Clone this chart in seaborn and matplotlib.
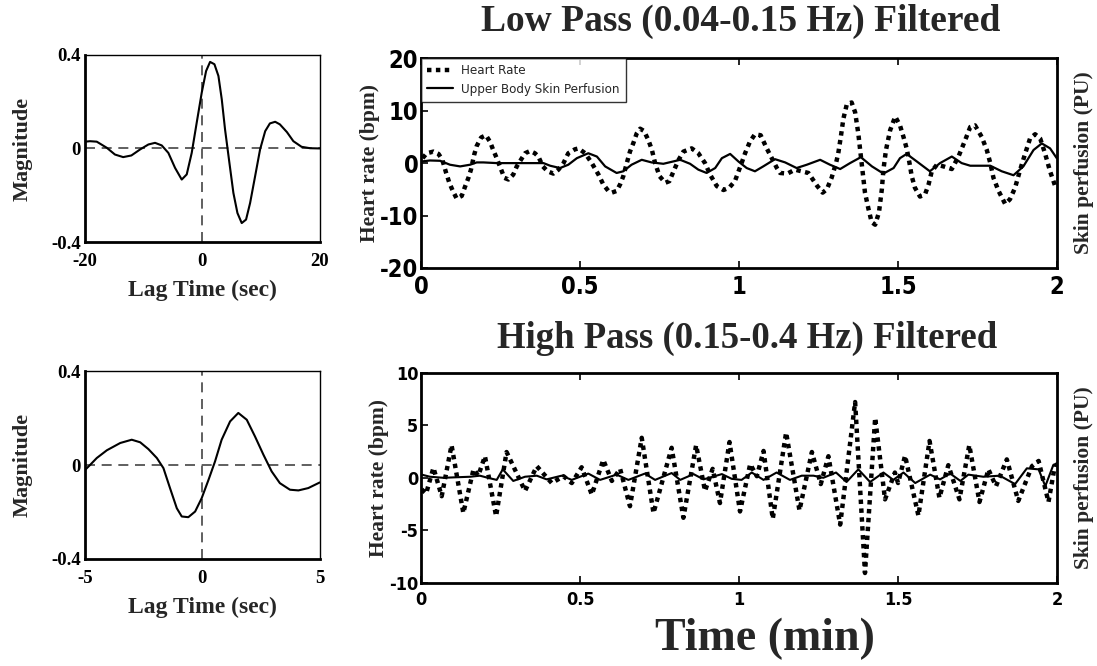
import matplotlib
matplotlib.use("Agg")
import matplotlib.pyplot as plt
import seaborn as sns
import pandas as pd

# ---------------- data ----------------
# Cross-correlation, low pass
ccf_lp_lag = [-20.0, -19.15, -18.0, -16.3, -14.9, -13.5, -12.1, -10.6, -9.2, -8.07, -6.93, -5.8, -4.66, -3.52, -2.67, -1.82, -0.97, -0.11, 0.63, 1.31, 2.05, 2.73, 3.3, 3.86, 4.6, 5.28, 5.97, 6.7, 7.44, 8.13, 8.98, 9.83, 10.7, 11.5, 12.4, 13.2, 14.4, 15.5, 16.9, 18.35, 20.0]
ccf_lp_mag = [0.029, 0.031, 0.029, 0.003, -0.026, -0.037, -0.03, -0.004, 0.017, 0.024, 0.013, -0.019, -0.083, -0.133, -0.111, -0.019, 0.11, 0.239, 0.331, 0.37, 0.36, 0.31, 0.21, 0.081, -0.061, -0.19, -0.276, -0.319, -0.304, -0.233, -0.119, -0.004, 0.074, 0.107, 0.114, 0.103, 0.07, 0.031, 0.007, 0.001, 0.0]
# Cross-correlation, high pass
ccf_hp_lag = [-4.99, -4.78, -4.5, -4.07, -3.5, -3.01, -2.65, -2.3, -1.94, -1.66, -1.38, -1.09, -0.88, -0.6, -0.31, -0.03, 0.26, 0.54, 0.82, 1.18, 1.53, 1.89, 2.24, 2.6, 2.95, 3.3, 3.73, 4.09, 4.51, 5.0]
ccf_hp_mag = [-0.02, 0.001, 0.03, 0.063, 0.094, 0.108, 0.097, 0.068, 0.03, -0.013, -0.098, -0.184, -0.219, -0.222, -0.198, -0.141, -0.063, 0.016, 0.108, 0.186, 0.222, 0.193, 0.122, 0.044, -0.027, -0.077, -0.105, -0.108, -0.098, -0.074]

# Low pass filtered heart rate
lp_hr_t = [0.005, 0.018, 0.039, 0.055, 0.067, 0.079, 0.089, 0.1, 0.112, 0.128, 0.138, 0.149, 0.157, 0.167, 0.175, 0.189, 0.204, 0.217, 0.227, 0.238, 0.248, 0.262, 0.275, 0.29, 0.301, 0.314, 0.327, 0.343, 0.358, 0.369, 0.383, 0.398, 0.416, 0.432, 0.448, 0.463, 0.484,
           0.495, 0.516, 0.537, 0.558, 0.573, 0.589, 0.6, 0.615, 0.626, 0.636, 0.647, 0.657, 0.668, 0.678, 0.689, 0.701, 0.715, 0.726, 0.736, 0.75, 0.768, 0.781, 0.794, 0.81, 0.825, 0.851, 0.872, 0.893, 0.909, 0.93, 0.951, 0.969, 0.987,
           1.008, 1.019, 1.034, 1.05, 1.068, 1.087, 1.103, 1.119, 1.129, 1.152, 1.176, 1.197, 1.218, 1.246, 1.263, 1.276, 1.291, 1.305, 1.312, 1.32, 1.328, 1.339, 1.354, 1.365, 1.375, 1.383, 1.389, 1.396, 1.407, 1.417, 1.428, 1.44, 1.449, 1.454, 1.462, 1.475, 1.491,
           1.506, 1.517, 1.527, 1.536, 1.543, 1.553, 1.569, 1.585, 1.596, 1.606, 1.622, 1.643, 1.669, 1.69, 1.711, 1.727, 1.742, 1.763, 1.779, 1.79, 1.8, 1.816, 1.837, 1.852, 1.868, 1.884, 1.9, 1.915, 1.931, 1.947, 1.962, 1.978, 1.994]
lp_hr_v = [0.94, 1.88, 2.19, 1.75, 0.63, -1.88, -3.75, -5.31, -6.75, -6.25, -4.56, -2.81, -1.25, 1.56, 3.25, 4.88, 5.31, 4.06, 2.5, 0.94, -0.63, -2.81, -3.13, -2.19, -0.63, 0.63, 1.88, 2.31, 1.88, 1.25, -0.63, -1.56, -2.0, -1.25, 0.0, 1.88, 2.63,
           2.8, 1.88, 0.0, -2.19, -4.06, -5.31, -5.63, -5.31, -4.06, -2.5, 0.0, 2.19, 3.88, 5.63, 6.56, 6.13, 4.38, 2.5, 0.0, -2.5, -3.75, -3.44, -1.56, 0.63, 2.19, 2.81, 1.88, 0.0, -2.19, -4.38, -5.13, -4.69, -3.44,
           0.0, 1.88, 4.06, 5.5, 5.31, 2.81, 0.94, -0.94, -1.88, -2.0, -1.25, -1.56, -1.88, -4.38, -5.63, -5.0, -2.81, 0.0, 1.88, 5.0, 8.44, 11.25, 11.56, 9.69, 5.63, 1.25, -1.88, -5.63, -8.75, -11.25, -11.75, -9.38, -5.0, -1.25, 2.5, 6.25, 8.88,
           7.19, 5.0, 2.81, 0.0, -2.5, -4.69, -6.38, -5.94, -4.06, -1.56, -0.31, -0.63, -1.13, 1.25, 4.38, 6.88, 7.19, 5.0, 2.5, 0.0, -2.81, -5.31, -7.81, -6.88, -4.69, -1.25, 1.88, 4.69, 5.5, 4.69, 1.88, -1.56, -4.38]
# Low pass filtered skin perfusion
lp_sp_t = [0.002, 0.028, 0.06, 0.091, 0.123, 0.154, 0.175, 0.196, 0.238, 0.332, 0.385, 0.406, 0.437, 0.463, 0.49,
           0.526, 0.553, 0.579, 0.615, 0.636, 0.662, 0.694, 0.725, 0.762, 0.815, 0.846, 0.872, 0.898, 0.925, 0.946, 0.972,
           0.998, 1.024, 1.05, 1.076, 1.113, 1.145, 1.181, 1.213, 1.255, 1.286, 1.318, 1.349, 1.383, 1.418, 1.454, 1.486,
           1.506, 1.527, 1.559, 1.6, 1.632, 1.669, 1.7, 1.727, 1.79, 1.826, 1.863, 1.894, 1.926, 1.952, 1.978, 1.999]
lp_sp_v = [0.31, 0.5, 0.44, -0.31, -0.63, -0.31, 0.13, 0.13, 0.0, 0.0, 0.0, -0.5, -0.94, -0.31, 0.94,
           1.88, 1.25, -0.63, -1.88, -1.56, -0.31, 0.63, 0.13, -0.13, 0.63, -0.13, -1.25, -1.88, -0.94, 0.94, 1.75,
           0.31, -0.94, -1.56, -0.63, 0.75, 0.13, -0.94, -0.31, 0.63, -0.31, -1.13, 0.0, 1.13, -0.63, -2.0, -0.94,
           0.94, 1.75, 0.31, -1.56, 0.0, 1.25, 0.0, -0.5, -0.5, -1.56, -2.31, -0.63, 2.5, 3.75, 2.81, 0.94]

# High pass filtered heart rate
hp_hr_t = [0.002, 0.016, 0.039, 0.065, 0.096, 0.133, 0.165, 0.18, 0.201, 0.236, 0.269, 0.327, 0.364, 0.411, 0.448, 0.474, 0.505, 0.537, 0.573, 0.6, 0.626, 0.657, 0.694, 0.731, 0.788, 0.825, 0.865, 0.893, 0.917, 0.94, 0.97, 1.003, 1.035, 1.056, 1.077, 1.106, 1.148, 1.19, 1.229, 1.257, 1.281, 1.318, 1.365, 1.396, 1.428, 1.459, 1.49, 1.50, 1.522, 1.564, 1.599, 1.63, 1.658, 1.693, 1.724, 1.756, 1.784, 1.808, 1.842, 1.878, 1.921, 1.942, 1.973, 1.994]
hp_hr_v = [-1.1, -1.5, 0.95, -1.75, 3.1, -3.35, 0.8, 0.2, 2.05, -3.65, 2.45, -1.25, 1.1, -0.5, 0.15, -0.5, 1.0, -1.6, 1.7, -0.3, 0.85, -2.7, 3.8, -3.35, 2.85, -3.8, 3.1, -1.25, 0.85, -2.4, 3.4, -3.2, 1.3, 0.15, 2.55, -3.9, 4.3, -3.1, 2.45, -0.6, 2.05, -4.45, 7.2, -9.05, 5.7, -2.05, 0.5, -0.5, 2.1, -3.6, 3.5, -1.9, 1.2, -2.05, 3.1, -2.3, 0.8, -0.8, 1.75, -2.2, 1.1, 1.6, -2.3, 1.3]
# High pass filtered skin perfusion
hp_sp_t = [0.002, 0.028, 0.07, 0.155, 0.185, 0.21, 0.238, 0.257, 0.29, 0.327, 0.364, 0.395, 0.442, 0.474, 0.5, 0.526, 0.563, 0.615, 0.652, 0.704, 0.736, 0.788, 0.815, 0.857, 0.888, 0.946, 0.977, 1.008, 1.04, 1.077, 1.118, 1.16, 1.197, 1.234, 1.265, 1.305, 1.338, 1.375, 1.412, 1.454, 1.485, 1.517, 1.554, 1.601, 1.632, 1.664, 1.696, 1.721, 1.768, 1.82, 1.868, 1.905, 1.942, 1.963, 1.988, 2.0]
hp_sp_v = [0.3, 0.1, 0.0, 0.1, 0.2, 0.0, -0.2, 0.8, -0.3, 0.1, 0.2, -0.15, 0.2, -0.2, 0.1, 0.4, -0.2, 0.3, -0.2, 0.4, -0.2, 0.45, -0.2, 0.35, -0.15, 0.35, -0.1, -0.2, 0.5, -0.2, 0.5, -0.2, 0.2, 0.2, 0.0, 0.5, -0.4, 0.8, -0.4, 0.5, -0.2, 0.5, -0.5, 0.3, -0.15, 0.4, -0.3, 0.3, 0.1, 0.2, -0.6, 0.9, 0.8, -0.8, 1.2, 1.4]

lp_title = "Low Pass (0.04-0.15 Hz) Filtered"
hp_title = "High Pass (0.15-0.4 Hz) Filtered"
legend_labels = ["Heart Rate", "Upper Body Skin Perfusion"]

# ---------------- style ----------------
sns.set_theme(style="white")
plt.rcParams["font.family"] = ["Liberation Serif", "DejaVu Serif"]
SERIF = ["Liberation Serif", "DejaVu Serif"]
NARROW = ["DejaVu Sans"]

fig = plt.figure(figsize=(10.97, 6.66), dpi=100)

def style_ccf(ax, xlim, xticks):
    ax.set_xlim(*xlim)
    ax.set_ylim(-0.4, 0.4)
    ax.axhline(0, color="#444444", lw=1.2, ls=(0, (6, 4)), zorder=1)
    ax.axvline(0, color="#444444", lw=1.2, ls=(0, (6, 4)), zorder=1)
    ax.set_xticks(xticks)
    ax.set_yticks([-0.4, 0, 0.4])
    ax.set_yticklabels(["-0.4", "0", "0.4"])
    ax.set_xticklabels([str(v) for v in xticks])
    for lab in ax.get_xticklabels() + ax.get_yticklabels():
        lab.set_fontfamily(SERIF)
        lab.set_fontweight("bold")
        lab.set_fontsize(13.5)
    ax.tick_params(direction="in", length=3, width=1, pad=8, colors="black")
    ax.tick_params(axis="y", pad=3)
    for side in ["left", "bottom"]:
        ax.spines[side].set_linewidth(2.0)
    for side in ["top", "right"]:
        ax.spines[side].set_linewidth(1.0)
    for s in ax.spines.values():
        s.set_color("black")
        s.set_visible(True)
    ax.set_ylabel("Magnitude", fontfamily=SERIF, fontweight="bold", fontsize=16, labelpad=13)
    ax.set_xlabel("Lag Time (sec)", fontfamily=SERIF, fontweight="bold", fontsize=17, labelpad=7)

# left top
ax1 = fig.add_axes([0.0775, 0.6366, 0.214, 0.281])
df1 = pd.DataFrame({"lag": ccf_lp_lag, "mag": ccf_lp_mag})
sns.lineplot(data=df1, x="lag", y="mag", ax=ax1, color="black", lw=1.5, zorder=3)
style_ccf(ax1, (-20, 20), [-20, 0, 20])

# left bottom
ax3 = fig.add_axes([0.0775, 0.1607, 0.214, 0.282])
df3 = pd.DataFrame({"lag": ccf_hp_lag, "mag": ccf_hp_mag})
sns.lineplot(data=df3, x="lag", y="mag", ax=ax3, color="black", lw=1.5, zorder=3)
style_ccf(ax3, (-5, 5), [-5, 0, 5])

def style_ts(ax, ylim, yticks, tick_fs, xpad):
    ax.set_xlim(0, 2)
    ax.set_ylim(*ylim)
    ax.set_xticks([0, 0.5, 1, 1.5, 2])
    ax.set_xticklabels(["0", "0.5", "1", "1.5", "2"])
    ax.set_yticks(yticks)
    ax.set_yticklabels([str(v) for v in yticks])
    for lab in ax.get_xticklabels() + ax.get_yticklabels():
        lab.set_fontfamily(NARROW)
        lab.set_fontstretch("condensed")
        lab.set_fontweight("bold")
        lab.set_fontsize(tick_fs)
    ax.tick_params(direction="in", length=5, width=1.2, colors="black",
                   top=True, right=True, bottom=True, left=True, pad=2)
    ax.tick_params(axis="x", pad=xpad)
    for s in ax.spines.values():
        s.set_linewidth(2.0)
        s.set_color("black")
        s.set_visible(True)
    ax.set_ylabel("Heart rate (bpm)", fontfamily=SERIF, fontweight="bold", fontsize=15.5, labelpad=0)
    ax.set_xlabel("")
    axr = ax.twinx()
    axr.set_ylim(*ylim)
    axr.set_yticks([])
    axr.set_ylabel("Skin perfusion (PU)", fontfamily=SERIF, fontweight="bold", fontsize=15.5, labelpad=12)
    for s in axr.spines.values():
        s.set_visible(False)
    return axr

# right top
ax2 = fig.add_axes([0.3838, 0.5976, 0.5798, 0.315])
df_lp_hr = pd.DataFrame({"t": lp_hr_t, "v": lp_hr_v})
df_lp_sp = pd.DataFrame({"t": lp_sp_t, "v": lp_sp_v})
sns.lineplot(data=df_lp_hr, x="t", y="v", ax=ax2, color="black", lw=3.2, ls=(0, (1, 1)), label=legend_labels[0])
sns.lineplot(data=df_lp_sp, x="t", y="v", ax=ax2, color="black", lw=1.6, label=legend_labels[1])
style_ts(ax2, (-20, 20), [-20, -10, 0, 10, 20], 17, 5)
leg = ax2.legend(loc="upper left", frameon=True, fancybox=False, borderaxespad=0.0,
                 prop={"family": ["DejaVu Sans"], "stretch": "condensed", "size": 9.5},
                 handlelength=2.0, borderpad=0.45, labelspacing=0.45, handletextpad=0.6)
leg.get_frame().set_edgecolor("black")
leg.get_frame().set_linewidth(1.0)

# right bottom
ax4 = fig.add_axes([0.3838, 0.1246, 0.5798, 0.316])
df_hp_hr = pd.DataFrame({"t": hp_hr_t, "v": hp_hr_v})
df_hp_sp = pd.DataFrame({"t": hp_sp_t, "v": hp_sp_v})
sns.lineplot(data=df_hp_hr, x="t", y="v", ax=ax4, color="black", lw=3.2, ls=(0, (1, 1)), legend=False)
sns.lineplot(data=df_hp_sp, x="t", y="v", ax=ax4, color="black", lw=1.5, legend=False)
style_ts(ax4, (-10, 10), [-10, -5, 0, 5, 10], 13, 6)

fig.text(0.6755, 1 - 31 / 666, lp_title, fontfamily=SERIF, fontweight="bold", fontsize=27, ha="center", va="baseline")
fig.text(0.681, 1 - 348 / 666, hp_title, fontfamily=SERIF, fontweight="bold", fontsize=26.5, ha="center", va="baseline")
fig.text(0.697, 0.040, "Time (min)", fontfamily=SERIF, fontweight="bold", fontsize=33, ha="center", va="center")

fig.savefig("out.png", dpi=100)
